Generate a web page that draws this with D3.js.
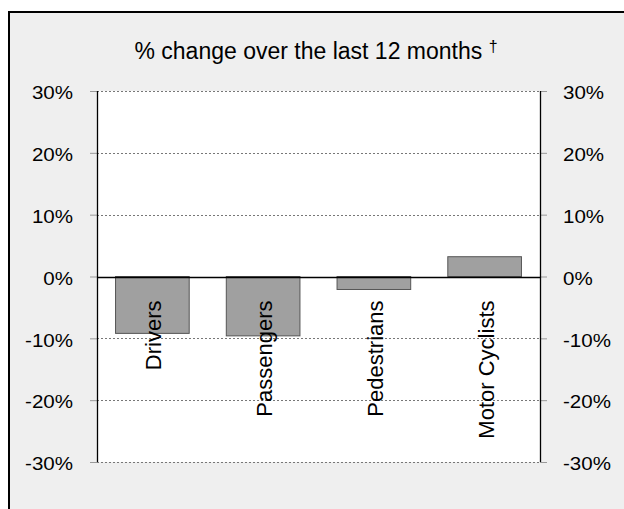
<!DOCTYPE html>
<html>
<head>
<meta charset="utf-8">
<script src="https://cdn.jsdelivr.net/npm/d3@7"></script>
<style>
  html, body { margin: 0; padding: 0; background: #fff; }
  svg { display: block; font-family: "Liberation Sans", Arial, sans-serif; }
</style>
</head>
<body>
<svg id="chart" width="624" height="509"></svg>
<script>
// Road user groups and their % change over the last 12 months
const categories = ["Drivers", "Passengers", "Pedestrians", "Motor Cyclists"];
const changes = [-9.2, -9.6, -2.1, 3.2];
const tickValues = [30, 20, 10, 0, -10, -20, -30];
const tickLabels = ["30%", "20%", "10%", "0%", "-10%", "-20%", "-30%"];
const subtitle = "% change over the last 12 months";

const svg = d3.select("#chart");
const plot = { left: 97, right: 540, top: 91, bottom: 462 };
const FONT = "'Liberation Sans', Arial, sans-serif";

// Panel background with a heavy frame
svg.append("rect")
  .attr("x", 9).attr("y", 12)
  .attr("width", 700).attr("height", 600)
  .attr("fill", "#efefef")
  .attr("stroke", "#000").attr("stroke-width", 2);

const x = d3.scaleBand()
  .domain(categories)
  .range([plot.left, plot.right])
  .paddingInner(0.335)
  .paddingOuter(0.1675);

const y = d3.scaleLinear()
  .domain([-30, 30])
  .range([plot.bottom, plot.top]);

// White plotting area
svg.append("rect")
  .attr("x", plot.left).attr("y", plot.top)
  .attr("width", plot.right - plot.left).attr("height", plot.bottom - plot.top)
  .attr("fill", "#fff");

// Dashed gridlines (zero line drawn solid below)
svg.append("g").selectAll("line")
  .data(tickValues.filter(v => v !== 0))
  .join("line")
  .attr("x1", plot.left).attr("x2", plot.right)
  .attr("y1", d => Math.round(y(d)) + 0.5).attr("y2", d => Math.round(y(d)) + 0.5)
  .attr("stroke", "#777").attr("stroke-width", 1)
  .attr("stroke-dasharray", "2,2");

// Left and right axes with outward ticks
const fmt = d => tickLabels[tickValues.indexOf(d)];
const leftAxis = svg.append("g")
  .attr("transform", `translate(${plot.left},0)`)
  .call(d3.axisLeft(y).tickValues(tickValues).tickFormat(fmt).tickSize(7).tickPadding(17));
const rightAxis = svg.append("g")
  .attr("transform", `translate(${plot.right},0)`)
  .call(d3.axisRight(y).tickValues(tickValues).tickFormat(fmt).tickSize(7).tickPadding(16));

[leftAxis, rightAxis].forEach(g => {
  g.select(".domain").remove();
  g.selectAll(".tick line").attr("stroke", "#999");
  g.selectAll(".tick text")
    .attr("font-size", 18.5)
    .attr("fill", "#000")
    .attr("dy", "0.42em")
    .style("font-family", FONT)
    .attr("textLength", function () { return this.getComputedTextLength() * 1.11; })
    .attr("lengthAdjust", "spacingAndGlyphs");
});

// Vertical frame lines of the plotting area
svg.append("line")
  .attr("x1", plot.left + 0.5).attr("x2", plot.left + 0.5)
  .attr("y1", plot.top).attr("y2", plot.bottom)
  .attr("stroke", "#000").attr("stroke-width", 1.3);
svg.append("line")
  .attr("x1", plot.right + 0.5).attr("x2", plot.right + 0.5)
  .attr("y1", plot.top).attr("y2", plot.bottom)
  .attr("stroke", "#000").attr("stroke-width", 1.3);

// Bars
svg.append("g").selectAll("rect")
  .data(categories.map((c, i) => ({ c, v: changes[i] })))
  .join("rect")
  .attr("x", d => x(d.c))
  .attr("width", x.bandwidth())
  .attr("y", d => y(Math.max(0, d.v)))
  .attr("height", d => Math.abs(y(d.v) - y(0)))
  .attr("fill", "#a0a0a0")
  .attr("stroke", "#555").attr("stroke-width", 1);

// Zero baseline
svg.append("line")
  .attr("x1", plot.left).attr("x2", plot.right)
  .attr("y1", Math.round(y(0)) + 0.5).attr("y2", Math.round(y(0)) + 0.5)
  .attr("stroke", "#000").attr("stroke-width", 1.3);

// Category labels, rotated, hanging below the zero line
svg.append("g").selectAll("text")
  .data(categories)
  .join("text")
  .attr("transform", d => `translate(${x(d) + x.bandwidth() / 2 + 9},${y(0) + 24}) rotate(-90)`)
  .attr("text-anchor", "end")
  .attr("font-size", 22)
  .attr("fill", "#000")
  .text(d => d);

// Subtitle with dagger mark
const sub = svg.append("text")
  .attr("x", 316).attr("y", 59)
  .attr("text-anchor", "middle")
  .attr("font-size", 23)
  .attr("fill", "#000");
sub.append("tspan").text(subtitle + " ");
sub.append("tspan").attr("font-size", 16).attr("dy", -7).attr("fill", "#000").text("†");
</script>
</body>
</html>
